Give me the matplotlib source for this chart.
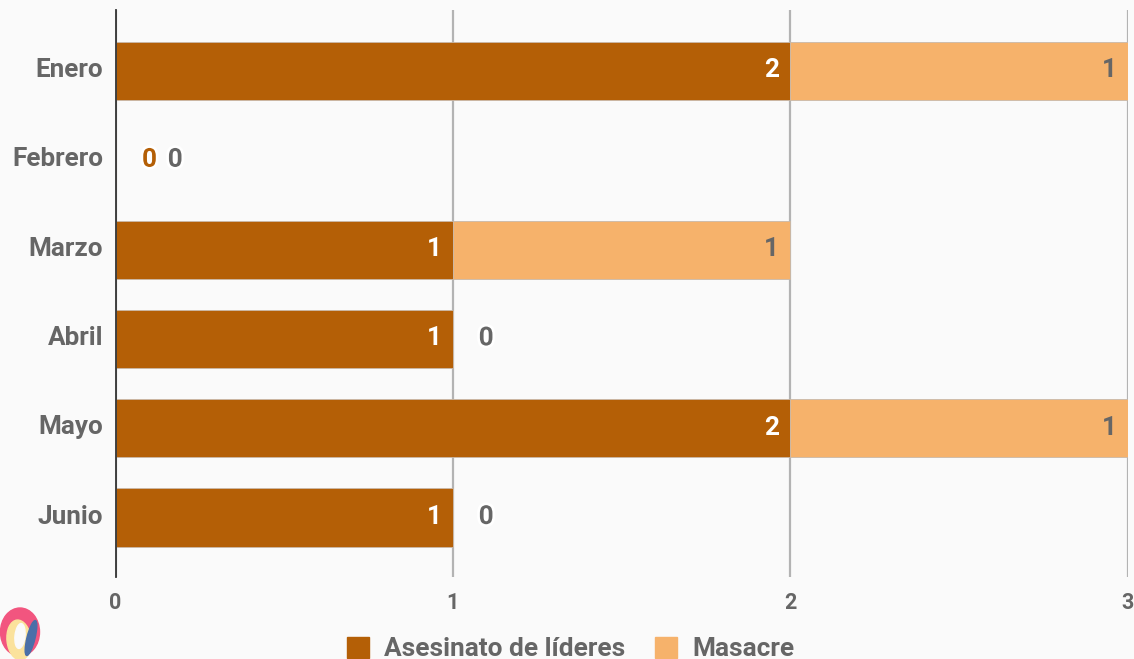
import matplotlib
matplotlib.use('Agg')
import matplotlib.pyplot as plt
import matplotlib.patheffects as pe
from matplotlib.patches import Ellipse, Patch
from matplotlib.transforms import ScaledTranslation

plt.rcParams['font.family'] = ['Roboto', 'DejaVu Sans']
plt.rcParams['font.weight'] = 'bold'

months = ['Enero', 'Febrero', 'Marzo', 'Abril', 'Mayo', 'Junio']
lideres = [2, 0, 1, 1, 2, 1]
masacre = [1, 0, 1, 0, 1, 0]
xticks = [0, 1, 2, 3]

W, H = 1134, 659
BG = '#fafafa'
C1 = '#b45f06'
C2 = '#f6b26b'
GREY = '#666666'

fig = plt.figure(figsize=(W / 100, H / 100), dpi=100, facecolor=BG)
# axes box in pixels: x 115.5-1127.5, y 10-577
ax = fig.add_axes([115.5 / W, 1 - 577 / H, 1012 / W, 567 / H], facecolor=BG)

ypos = list(range(len(months)))
ax.barh(ypos, lideres, height=0.65, color=C1, edgecolor='#c9b9a9', lw=0.6, zorder=3)
ax.barh(ypos, masacre, left=lideres, height=0.65, color=C2, edgecolor='#c9b9a9', lw=0.6, zorder=3)

ax.set_xlim(0, 3)
ax.set_ylim(5.666, -0.683)
ax.set_yticks(ypos, months, fontsize=18.8, color=GREY)
ax.set_xticks(xticks, [str(v) for v in xticks], fontsize=15.5, color=GREY)
ax.tick_params(length=0)
ax.tick_params(axis='y', pad=9)
ax.tick_params(axis='x', pad=11)
# tick labels sit a little above the bar centres
shift = ScaledTranslation(0, 2.5 / 72, fig.dpi_scale_trans)
for t in ax.get_yticklabels():
    t.set_transform(t.get_transform() + shift)
ax.grid(axis='x', color='#b3b3b3', lw=1.6, zorder=1)
for s in ['top', 'right', 'bottom']:
    ax.spines[s].set_visible(False)
ax.spines['left'].set_color('#333333')
ax.spines['left'].set_linewidth(1.3)
ax.spines['left'].set_zorder(5)

halo = [pe.withStroke(linewidth=4, foreground='white')]
DY = 2.2
for i, (a, b) in enumerate(zip(lideres, masacre)):
    if a > 0:
        ax.annotate(str(a), (a, i), xytext=(-8, DY), textcoords='offset points',
                    ha='right', va='center_baseline', fontsize=18.8, color='white', zorder=6)
        ax.annotate(str(b), (a + b, i), xytext=(-8 if b else 24, DY), textcoords='offset points',
                    ha='right' if b else 'center', va='center_baseline', fontsize=18.8, color=GREY,
                    zorder=6, path_effects=None if b else halo)
    else:
        ax.annotate(str(a), (0, i), xytext=(24.5, DY), textcoords='offset points',
                    ha='center', va='center_baseline', fontsize=18.8, color=C1, zorder=6, path_effects=halo)
        ax.annotate(str(b), (0, i), xytext=(43, DY), textcoords='offset points',
                    ha='center', va='center_baseline', fontsize=18.8, color=GREY, zorder=6, path_effects=halo)

handles = [Patch(color=C1, label='Asesinato de líderes'), Patch(color=C2, label='Masacre')]
fig.legend(handles=handles, loc='center left', bbox_to_anchor=(323 / W, 1 - 649 / H),
           ncol=2, frameon=False, fontsize=18.9, labelcolor=GREY,
           handlelength=0.85, handleheight=0.85, handletextpad=0.57, columnspacing=1.14)

# logo in the lower left corner
logo = fig.add_axes([0, 0, 1, 1], zorder=2)
logo.set_xlim(0, W)
logo.set_ylim(H, 0)
logo.set_axis_off()
logo.patch.set_alpha(0)
logo.add_patch(Ellipse((20, 632), 39, 48, color='#f2557f'))
logo.add_patch(Ellipse((19, 640), 24, 40, angle=-6, color='#fbe29c'))
logo.add_patch(Ellipse((31, 638), 8, 36, angle=14, color='#4a6fa8'))
logo.add_patch(Ellipse((20, 636), 10, 25, angle=6, color='#fafafa'))

fig.savefig('out.png', dpi=100, facecolor=BG)
